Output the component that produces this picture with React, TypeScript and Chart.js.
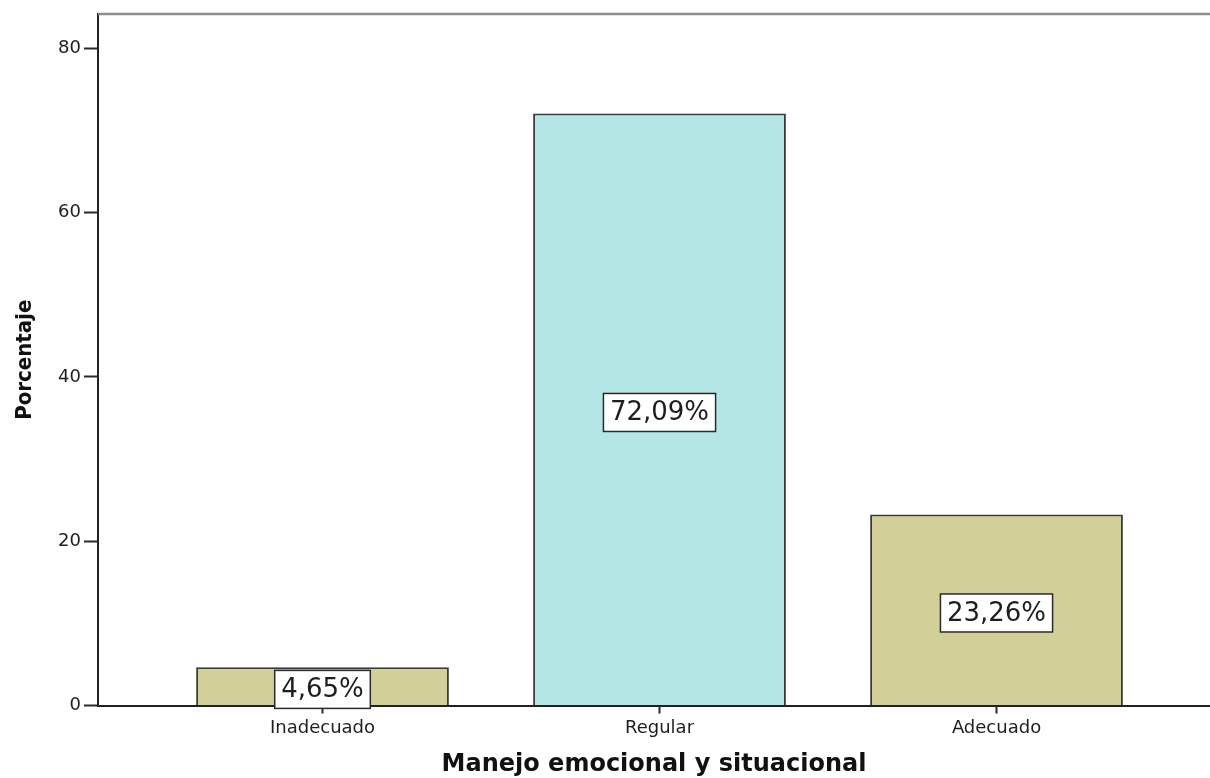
import React, { useEffect, useRef } from "react";
import { Chart, registerables } from "chart.js";

Chart.register(...registerables);

const categories = ["Inadecuado", "Regular", "Adecuado"];
const percentages = [4.65, 72.09, 23.26];
const barColors = ["#d3cf98", "#b5e6e6", "#d3cf98"];
const yTickValues = [0, 20, 40, 60, 80];
const xTitle = "Manejo emocional y situacional";
const yTitle = "Porcentaje";

const formatPercent = (v: number) => v.toFixed(2).replace(".", ",") + "%";

export default function App() {
  const canvasRef = useRef<HTMLCanvasElement>(null);

  useEffect(() => {
    if (!canvasRef.current) return;

    // gray frame line along the top of the plot area
    const topFrame = {
      id: "topFrame",
      afterDraw(chart: any) {
        const { ctx, chartArea } = chart;
        ctx.save();
        ctx.strokeStyle = "#8c8c8c";
        ctx.lineWidth = 2.5;
        ctx.beginPath();
        ctx.moveTo(chartArea.left, chartArea.top);
        ctx.lineTo(chartArea.right, chartArea.top);
        ctx.stroke();
        ctx.restore();
      },
    };

    // boxed percentage labels at the middle of each bar
    const valueBoxes = {
      id: "valueBoxes",
      afterDatasetsDraw(chart: any) {
        const { ctx } = chart;
        const meta = chart.getDatasetMeta(0);
        const yScale = chart.scales.y;
        ctx.save();
        ctx.font = "26px 'DejaVu Sans', sans-serif";
        ctx.textAlign = "center";
        ctx.textBaseline = "middle";
        meta.data.forEach((bar: any, i: number) => {
          const v = percentages[i];
          const text = formatPercent(v);
          const cx = bar.x;
          const cy = yScale.getPixelForValue(v / 2) + 3;
          const w = ctx.measureText(text).width + 13;
          const h = 38;
          ctx.fillStyle = "#ffffff";
          ctx.fillRect(cx - w / 2, cy - h / 2, w, h);
          ctx.strokeStyle = "#2a2a2a";
          ctx.lineWidth = 1.5;
          ctx.strokeRect(cx - w / 2, cy - h / 2, w, h);
          ctx.fillStyle = "#1e1e1e";
          ctx.fillText(text, cx, cy + 1);
        });
        ctx.restore();
      },
    };

    const chart = new Chart(canvasRef.current, {
      type: "bar",
      data: {
        datasets: [
          {
            data: percentages.map((v, i) => ({ x: i, y: v })),
            backgroundColor: barColors,
            borderColor: "#3a3a3a",
            borderWidth: 2,
            categoryPercentage: 1,
            barPercentage: 0.75,
          },
        ],
      },
      options: {
        animation: false,
        responsive: true,
        maintainAspectRatio: false,
        layout: { padding: { top: 14, left: 0, right: 0, bottom: 0 } },
        plugins: {
          legend: { display: false },
          tooltip: { enabled: false },
        },
        scales: {
          x: {
            type: "linear",
            offset: false,
            min: -0.6662,
            max: 2.6335,
            afterBuildTicks: (scale: any) => {
              scale.ticks = categories.map((_, i) => ({ value: i }));
            },
            afterFit: (scale: any) => {
              scale.height = 72.5;
            },
            ticks: {
              autoSkip: false,
              maxRotation: 0,
              padding: 4,
              color: "#1e1e1e",
              font: { family: "'DejaVu Sans', sans-serif", size: 18 },
              callback: (value: any) => categories[value as number] ?? "",
            },
            grid: {
              offset: false,
              drawOnChartArea: false,
              drawTicks: true,
              tickLength: 8,
              tickWidth: 2,
              color: "#2a2a2a",
            },
            border: { display: true, color: "#222222", width: 2 },
            title: {
              display: true,
              text: xTitle,
              color: "#111111",
              font: { family: "'DejaVu Sans', sans-serif", size: 24, weight: "bold", lineHeight: 1 },
              padding: { top: 0, bottom: 1 },
            },
          },
          y: {
            type: "linear",
            min: 0,
            max: 84.2,
            afterBuildTicks: (scale: any) => {
              scale.ticks = yTickValues.map((v) => ({ value: v }));
            },
            afterFit: (scale: any) => {
              scale.width = 98;
            },
            ticks: {
              padding: 3,
              color: "#1e1e1e",
              font: { family: "'DejaVu Sans', sans-serif", size: 18 },
            },
            grid: {
              drawOnChartArea: false,
              drawTicks: true,
              tickLength: 14,
              tickWidth: 2,
              color: "#2a2a2a",
            },
            border: { display: true, color: "#222222", width: 2 },
            title: {
              display: true,
              text: yTitle,
              color: "#111111",
              font: {
                family: "'Liberation Sans Narrow', 'DejaVu Sans Condensed', 'Roboto Condensed', sans-serif",
                size: 22,
                weight: "bold",
                lineHeight: 1,
              },
              padding: { top: 14, bottom: 0 },
            },
          },
        },
      },
      plugins: [topFrame, valueBoxes],
    });

    return () => chart.destroy();
  }, []);

  return (
    <div style={{ position: "fixed", left: 0, top: 0, width: 1210, height: 778, background: "#ffffff" }}>
      <canvas ref={canvasRef} />
    </div>
  );
}
